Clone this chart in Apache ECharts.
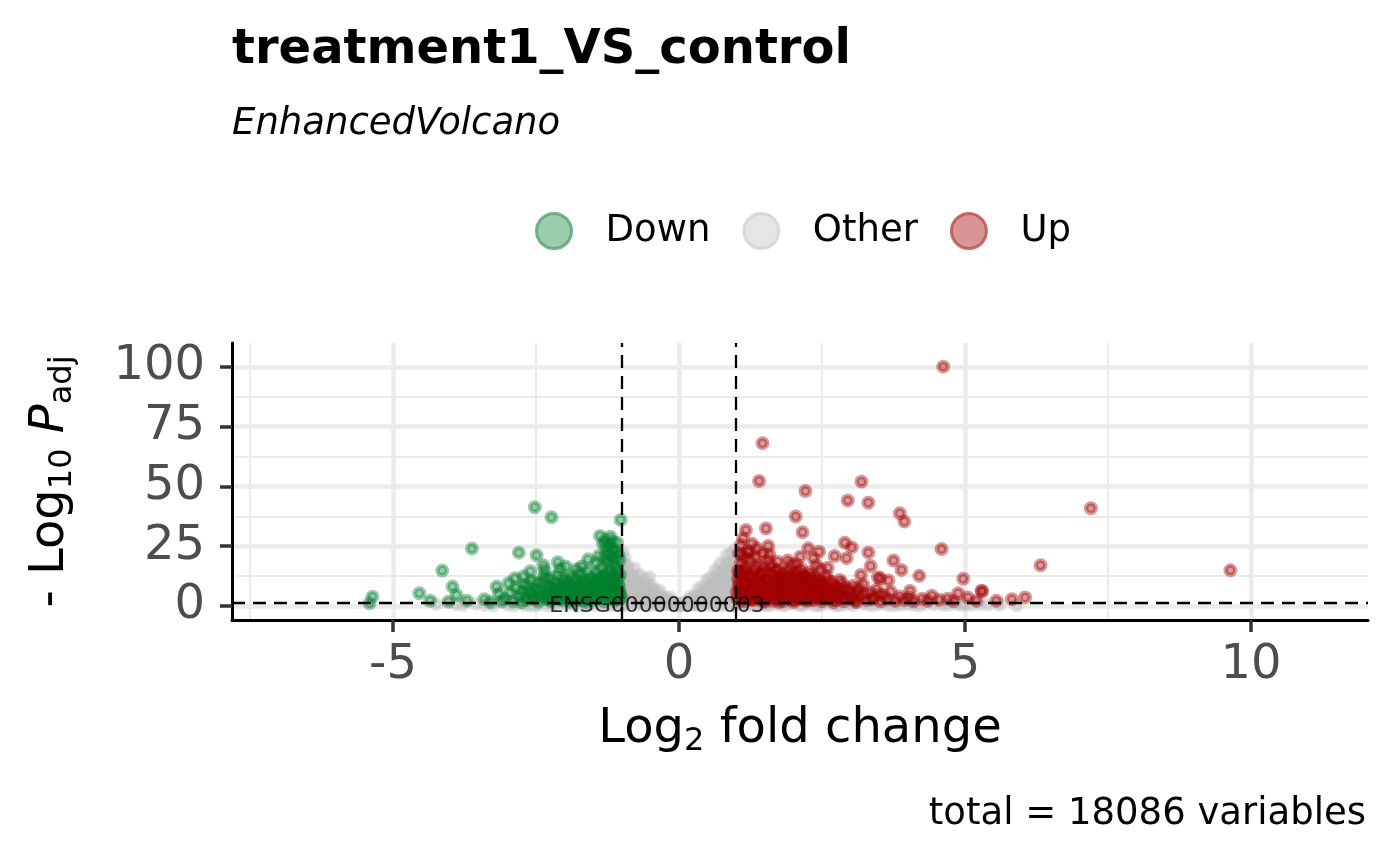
<!DOCTYPE html>
<html>
<head>
<meta charset="utf-8" />
<title>treatment1_VS_control</title>
<script type="text/javascript" src="https://cdn.jsdelivr.net/npm/echarts@6/dist/echarts.min.js"></script>
<style>
  html, body { margin: 0; padding: 0; background: #fff; }
  #main { width: 1400px; height: 866px; }
</style>
</head>
<body>
<div id="main"></div>
<script type="text/javascript">
// 分组名称
var groups = ['Down', 'Other', 'Up'];
var groupColors = ['0,128,45', '190,190,190', '160,0,0'];
// 图例圆点 (填充, 边框)
var legendFill = ['#80c096', '#dedede', '#d07b7b'];
var legendBorder = ['#4fa56c', '#d2d2d2', '#c04848'];

// 坐标轴刻度
var xTicks = [-5, 0, 5, 10];
var xMinorTicks = [-7.5, -2.5, 2.5, 7.5];
var yTicks = [0, 25, 50, 75, 100];
var yMinorTicks = [12.5, 37.5, 62.5, 87.5];
var xRange = [-7.815, 12.045];
var yRange = [-5.86, 110];

// 阈值线 (log2FC = ±1, padj = 0.05)
var fcCut = [-1, 1];
var pCut = [1.30103];

// 标注的基因
var labelGenes = ['ENSG00000000003'];
var labelPos = [[-0.385, 0]];

// 下调 (log2FC, -log10 padj)
var downPoints = [
  [-5.41,1.1],[-5.36,3.9],[-4.54,5.3],[-4.35,2.2],[-4.14,14.8],[-3.96,8.1],[-3.89,4.6],[-4.03,1.8],
  [-3.71,2.2],[-3.62,24.0],[-3.40,2.8],[-3.19,8.1],[-2.80,22.3],[-2.52,41.3],[-2.23,37.1],[-2.49,21.2],
  [-2.37,17.0],[-2.12,18.3],[-1.98,16.5],[-1.79,15.4],[-1.59,19.5],[-1.38,29.3],[-1.29,27.6],[-1.15,23.7],
  [-1.02,36.0],[-1.24,19.2],[-1.21,15.1],[-2.87,11.6],[-2.72,12.3],[-2.26,11.7],[-2.02,9.5],
  [-1.33,26.0],[-1.27,24.5],[-1.22,25.8],[-1.18,21.5],[-1.30,20.5],[-1.26,18.0],[-1.14,17.5],[-1.19,13.5],
  [-1.12,12.0],[-1.28,13.0],[-1.35,11.0],[-1.10,10.0],[-1.16,8.5],[-1.05,6.0],[-1.08,14.5],
  [-3.05,3.0],[-2.95,5.5],[-2.90,2.0],[-2.85,7.5],[-2.78,4.0],[-2.70,9.0],[-2.66,2.5],[-2.62,6.0],
  [-2.58,10.5],[-2.55,3.5],[-2.50,7.0],[-2.46,1.8],[-2.44,5.0],[-2.40,9.5],[-2.36,12.5],[-2.33,3.0],
  [-2.30,6.5],[-2.28,8.5],[-2.24,2.0],[-2.20,4.5],[-2.18,10.0],[-2.15,7.0],[-2.12,13.0],[-2.10,2.8],
  [-2.07,5.5],[-2.05,8.0],[-2.02,11.5],[-1.99,3.8],[-1.96,6.5],[-1.94,9.5],[-1.91,1.8],[-1.88,12.5],
  [-1.86,4.5],[-1.84,7.5],[-1.81,10.5],[-1.78,2.5],[-1.76,5.5],[-1.74,13.5],[-1.71,8.5],[-1.69,3.5],
  [-1.66,11.0],[-1.64,6.0],[-1.62,1.6],[-1.59,9.0],[-1.57,4.0],[-1.55,12.0],[-1.52,7.0],[-1.50,2.5],
  [-1.48,10.0],[-1.46,5.0],[-1.43,14.0],[-1.41,8.0],[-1.39,3.0],[-1.37,11.5],[-1.34,6.0],[-1.31,2.0],
  [-1.29,9.0],[-1.26,4.5],[-1.24,7.5],[-1.21,3.2],[-1.18,10.5],[-1.15,5.5],[-1.13,2.2],[-1.11,7.0],
  [-1.08,4.0],[-1.06,9.0],[-1.04,2.8],[-1.02,5.0],[-3.30,1.6],[-3.15,5.0],[-3.10,1.9],[-2.98,9.5],
  [-2.75,1.5],[-2.60,14.5],[-2.35,15.0],[-2.08,15.5],[-1.70,16.5],[-1.60,14.5],[-1.45,18.0],[-1.40,21.0],
  [-1.36,16.0],
  [-2.75,6.2],[-2.68,3.8],[-2.64,8.2],[-2.57,5.2],[-2.53,2.9],[-2.48,9.8],[-2.42,6.8],[-2.39,3.9],
  [-2.34,11.0],[-2.31,4.8],[-2.27,2.6],[-2.23,7.6],[-2.19,5.9],[-2.16,3.4],[-2.13,9.0],[-2.09,6.3],
  [-2.06,4.1],[-2.03,2.3],[-2.00,7.3],[-1.97,10.8],[-1.95,5.1],[-1.92,3.0],[-1.89,8.4],[-1.87,6.0],
  [-1.85,2.9],[-1.82,11.8],[-1.80,5.0],[-1.77,7.9],[-1.75,3.6],[-1.72,10.0],[-1.70,2.2],[-1.68,6.8],
  [-1.65,4.6],[-1.63,9.8],[-1.61,7.5],[-1.58,3.2],[-1.56,5.8],[-1.54,10.9],[-1.51,4.2],[-1.49,8.7],
  [-1.47,6.4],[-1.44,3.3],[-1.42,11.8],[-1.40,5.4],[-1.38,9.4],[-1.36,7.0],[-1.33,4.0],[-1.32,12.6],
  [-1.30,8.0],[-1.28,5.9],[-1.25,10.6],[-1.23,3.8],[-1.20,8.8],[-1.19,6.2],[-1.17,12.4],[-1.14,4.6],
  [-1.12,9.8],[-1.10,3.0],[-1.09,16.5],[-1.07,11.5],[-1.05,7.8],[-1.03,13.0],[-1.01,3.6],[-1.04,19.0],
  [-1.06,21.5],[-1.11,23.0],[-1.13,19.8],[-1.08,26.5],[-1.17,27.0],[-1.20,29.0],[-1.25,22.0]
];

// 不显著
var otherPoints = [
  [-0.98,22.5],[-0.97,18.0],[-0.95,20.0],[-0.93,14.5],[-0.91,17.0],[-0.89,11.0],[-0.88,15.5],[-0.86,8.0],
  [-0.84,13.0],[-0.82,5.5],[-0.80,10.5],[-0.78,15.8],[-0.76,12.5],[-0.74,7.5],[-0.72,3.5],[-0.70,10.0],
  [-0.68,13.0],[-0.66,6.0],[-0.64,9.0],[-0.62,2.5],[-0.60,11.0],[-0.58,7.0],[-0.56,4.5],[-0.54,9.5],
  [-0.52,12.0],[-0.50,6.0],[-0.48,2.0],[-0.46,8.0],[-0.44,4.0],[-0.42,6.5],[-0.40,1.5],[-0.38,5.0],
  [-0.36,3.0],[-0.34,6.5],[-0.32,1.0],[-0.30,4.0],[-0.28,2.5],[-0.25,3.5],[-0.22,1.2],[-0.19,2.5],
  [-0.16,3.8],[-0.13,0.8],[-0.10,1.8],[-0.07,0.5],[-0.04,1.0],[-0.01,0.3],
  [0.02,0.4],[0.05,1.0],[0.08,0.6],[0.11,1.6],[0.14,0.9],[0.17,2.5],[0.19,3.9],[0.22,1.5],
  [0.25,3.0],[0.28,4.5],[0.31,2.0],[0.34,7.4],[0.36,5.0],[0.39,3.0],[0.42,8.0],[0.45,6.0],
  [0.48,10.9],[0.50,4.0],[0.53,8.5],[0.55,12.0],[0.58,6.5],[0.60,10.0],[0.63,15.1],[0.65,3.0],
  [0.67,12.5],[0.70,8.0],[0.72,17.8],[0.74,14.0],[0.76,5.5],[0.78,11.0],[0.80,16.0],[0.83,21.3],
  [0.85,9.0],[0.87,18.5],[0.89,13.5],[0.91,22.0],[0.93,6.5],[0.95,16.5],[0.97,23.5],[0.99,11.5],
  [0.84,2.0],[0.62,1.5],[0.44,1.0],
  [-0.99,14.0],[-0.97,9.0],[-0.96,4.5],[-0.94,11.5],[-0.92,7.0],[-0.90,3.0],[-0.87,5.5],[-0.85,10.0],
  [-0.83,3.8],[-0.81,7.8],[-0.79,2.8],[-0.77,5.8],[-0.75,9.8],[-0.73,2.2],[-0.71,6.2],[-0.69,4.0],
  [-0.67,8.8],[-0.63,5.2],[-0.61,7.8],[-0.59,3.4],[-0.57,1.8],[-0.53,5.0],[-0.51,3.2],[-0.49,7.2],
  [-0.47,4.4],[-0.43,2.4],[-0.41,3.8],[-0.37,1.6],[-0.33,3.2],[-0.29,1.4],[-0.26,0.9],[-0.20,1.6],
  [-0.15,0.9],[-0.11,0.4],[-0.05,0.2],[0.00,0.6],[0.04,0.2],[0.09,0.3],[0.13,1.2],[0.16,0.6],
  [0.20,2.0],[0.23,0.8],[0.27,1.8],[0.30,3.4],[0.33,1.2],[0.37,2.2],[0.40,5.0],[0.43,3.4],
  [0.47,2.4],[0.49,6.8],[0.52,5.4],[0.54,2.8],[0.57,9.0],[0.59,4.2],[0.61,7.4],[0.64,5.2],
  [0.66,10.0],[0.68,3.6],[0.69,14.2],[0.71,6.4],[0.73,10.8],[0.75,3.2],[0.77,8.4],[0.79,13.2],
  [0.81,5.0],[0.82,18.0],[0.86,12.0],[0.88,4.4],[0.90,9.6],[0.92,15.0],[0.94,3.4],[0.96,8.8],
  [0.98,19.0],
  [-4.24,0.8],[-3.78,0.4],[-3.55,0.9],[-3.25,0.2],[-3.00,0.6],[-2.85,1.0],[-2.70,0.3],[-2.60,0.0],
  [-2.45,0.7],[-2.30,0.1],[-2.15,0.9],[-2.00,0.4],[-1.85,1.1],[-1.75,0.2],[-1.65,0.6],[-1.55,1.0],
  [-1.45,0.3],[-1.35,0.8],[-1.25,0.1],[-1.15,0.5],[-1.05,1.0],[-0.95,0.2],[-0.85,0.7],[-0.75,0.3],
  [-0.65,0.9],[-0.55,0.1],[-0.45,0.5],[-0.35,0.2],[-0.25,0.6],[0.25,0.5],[0.35,0.2],[0.45,0.8],
  [0.55,0.3],[0.65,0.6],[0.75,0.1],[0.85,0.9],[0.95,0.4],[1.05,0.7],[1.15,0.2],[1.25,1.0],
  [1.35,0.4],[1.45,0.8],[1.55,0.1],[1.70,0.6],[1.85,0.3],[2.00,0.9],[2.15,0.2],[2.30,0.7],
  [2.45,0.4],[2.60,1.0],[2.75,0.1],[2.90,0.6],[3.05,0.3],[3.20,0.9],[3.40,0.2],[3.60,0.7],
  [3.80,0.4],[4.00,0.9],[4.20,0.1],[4.45,0.6],[4.70,0.3],[4.95,0.4],[5.00,0.9],[5.40,0.5],
  [-3.90,0.6],[-3.40,0.4],[-2.90,0.2],[-2.50,0.3],[-2.20,0.5],[-1.90,0.7],[-1.60,0.2],[-1.30,0.5],
  [-1.10,0.8],[-1.00,0.3],[1.00,0.5],[1.10,1.0],[1.20,0.3],[1.30,0.6],[1.40,0.1],[1.50,0.5],
  [1.60,0.8],[1.80,0.4],[1.90,0.9],[2.10,0.5],[2.20,0.9],[2.40,0.1],[2.50,0.6],[2.70,0.8],
  [2.80,0.3],[3.00,0.9],[3.30,0.5],[3.50,0.8],[3.70,0.2],[3.90,0.6],[4.10,0.4],[4.30,0.8],
  [4.60,0.5],[4.85,0.7],[5.10,0.3],[5.25,0.7],[5.60,0.4],[5.90,0.2]
];

// 上调
var upPoints = [
  [4.62,100.1],[1.46,68.1],[1.40,52.3],[2.21,48.1],[3.19,52.0],[2.95,44.1],[3.31,43.2],[2.04,37.4],
  [2.16,30.8],[3.86,38.8],[3.94,35.3],[4.59,23.8],[1.17,31.8],[1.52,32.4],[1.12,28.3],[1.36,24.1],
  [1.56,25.1],[2.26,24.1],[2.45,22.7],[2.12,20.6],[2.35,20.0],[2.90,26.5],[3.02,24.5],[2.72,20.9],
  [2.93,20.0],[3.31,22.3],[3.35,16.7],[3.75,19.0],[3.89,15.1],[3.18,13.0],[3.48,12.0],[3.52,11.5],
  [3.66,10.7],[4.20,12.6],[2.81,10.9],[2.47,15.4],[4.97,11.4],[4.04,6.3],[4.42,4.3],[4.88,5.3],
  [5.29,6.4],[5.55,2.2],[5.82,2.8],[5.20,2.2],[4.70,3.0],[4.80,2.0],[5.05,3.5],[7.20,40.9],
  [6.32,17.0],[9.64,14.9],[5.30,6.1],[6.05,3.6],[1.08,25.5],[1.20,23.0],[1.28,26.0],[1.05,22.0],
  [1.02,3.0],[1.04,8.0],[1.06,14.0],[1.08,18.0],[1.10,5.0],[1.12,11.0],[1.14,2.0],[1.16,16.0],
  [1.18,7.5],[1.20,12.5],[1.22,3.5],[1.24,19.5],[1.26,9.0],[1.28,5.5],[1.30,14.5],[1.32,2.5],
  [1.34,11.5],[1.36,7.0],[1.38,17.0],[1.40,4.0],[1.42,13.0],[1.44,9.5],[1.46,2.0],[1.48,16.5],
  [1.50,6.0],[1.52,11.0],[1.54,3.5],[1.56,19.0],[1.58,8.0],[1.60,13.5],[1.62,5.0],[1.64,2.2],
  [1.66,10.5],[1.68,15.0],[1.70,6.5],[1.72,3.0],[1.74,12.0],[1.76,8.5],[1.78,4.5],[1.80,10.0],
  [1.82,2.0],[1.84,14.0],[1.86,6.0],[1.88,9.0],[1.90,3.5],[1.92,12.5],[1.94,7.0],[1.96,17.5],
  [1.98,4.5],[2.00,10.5],[2.02,2.5],[2.04,13.5],[2.06,7.5],[2.08,5.0],[2.10,11.5],[2.12,3.0],
  [2.14,15.5],[2.16,8.0],[2.18,5.5],[2.20,12.0],[2.22,2.2],[2.24,9.5],[2.26,6.0],[2.28,14.0],
  [2.30,4.0],[2.32,10.5],[2.34,7.0],[2.36,2.5],[2.38,12.0],[2.40,5.0],[2.42,8.5],[2.44,3.5],
  [2.46,11.0],[2.48,6.5],[2.50,2.0],[2.52,9.0],[2.55,4.5],[2.58,12.5],[2.61,7.0],[2.64,3.0],
  [2.67,10.0],[2.70,5.5],[2.73,8.0],[2.76,2.5],[2.79,6.5],[2.82,4.0],[2.85,9.5],[2.88,2.0],
  [2.92,7.5],[2.96,5.0],[3.00,3.0],[3.04,8.5],[3.08,2.2],[3.12,6.0],[3.16,4.0],[3.22,9.0],
  [3.28,2.5],[3.34,5.5],[3.40,3.5],[3.46,7.0],[3.52,2.0],[3.58,4.5],[3.64,2.8],[3.70,6.0],
  [3.78,2.2],[3.86,4.0],[3.94,2.5],[4.02,3.5],[4.10,2.0],[4.25,3.0],[4.35,2.2],[4.55,2.6],
  [1.10,21.0],[1.16,20.0],[1.22,22.5],[1.34,20.5],[1.46,22.0],[1.58,21.5],[1.72,18.5],[1.90,19.0],
  [2.05,17.5],[2.40,17.0],[2.60,16.0],[1.03,11.5],[1.07,6.5],[1.13,15.0],[1.27,2.8],[1.50,1.8],
  [1.75,1.6],[2.00,1.7],[2.70,1.6],[3.10,1.6],
  [1.01,5.8],[1.03,14.8],[1.05,9.6],[1.07,2.4],[1.09,12.8],[1.11,7.8],[1.13,4.2],[1.15,10.2],
  [1.17,5.5],[1.19,14.2],[1.21,9.0],[1.23,6.3],[1.25,2.6],[1.27,12.0],[1.29,8.2],[1.31,4.5],
  [1.33,16.0],[1.35,9.8],[1.37,3.4],[1.39,12.2],[1.41,6.8],[1.43,10.4],[1.45,4.8],[1.47,13.8],
  [1.49,8.4],[1.51,2.8],[1.53,14.5],[1.55,6.2],[1.57,10.6],[1.59,4.4],[1.61,16.8],[1.63,8.8],
  [1.65,3.4],[1.67,12.6],[1.69,5.6],[1.71,9.2],[1.73,15.2],[1.75,3.8],[1.77,11.0],[1.79,6.8],
  [1.81,13.2],[1.83,4.0],[1.85,8.0],[1.87,11.8],[1.89,5.2],[1.91,14.8],[1.93,2.8],[1.95,9.6],
  [1.97,6.2],[1.99,12.4],[2.01,4.2],[2.03,8.6],[2.05,11.0],[2.07,3.2],[2.09,14.6],[2.11,6.8],
  [2.13,9.8],[2.15,4.6],[2.17,12.8],[2.19,2.8],[2.21,7.4],[2.23,11.6],[2.25,4.4],[2.27,8.8],
  [2.29,2.4],[2.31,12.6],[2.33,5.6],[2.35,9.0],[2.37,3.8],[2.39,7.8],[2.41,10.4],[2.43,5.8],
  [2.47,3.2],[2.49,9.6],[2.51,5.2],[2.54,7.4],[2.57,3.0],[2.60,10.8],[2.63,5.0],[2.66,8.0],
  [2.69,3.6],[2.72,6.2],[2.78,4.6],[2.84,7.0],[2.90,3.6],[2.98,6.6],[3.06,4.0],[3.14,7.6],
  [3.25,5.0],[3.38,2.8],[3.50,4.8]
];

var groupData = [downPoints, otherPoints, upPoints];
var font = 'DejaVu Sans';

function pointSeries(i) {
  var c = groupColors[i];
  return {
    name: groups[i],
    type: 'scatter',
    data: groupData[i],
    symbol: 'circle',
    symbolSize: 9.5,
    itemStyle: {
      color: 'rgba(' + c + ',0.5)',
      borderColor: 'rgba(' + c + ',0.5)',
      borderWidth: 4.5
    },
    silent: true
  };
}

var myChart = echarts.init(document.getElementById('main'), null, {renderer: 'canvas'});

var series = [pointSeries(1), pointSeries(0), pointSeries(2)];

// 阈值虚线
var cutLines = [];
fcCut.forEach(function (v) { cutLines.push({xAxis: v}); });
pCut.forEach(function (v) { cutLines.push({yAxis: v}); });
series.push({
  name: 'cutoff',
  type: 'scatter',
  data: [],
  silent: true,
  markLine: {
    silent: true,
    symbol: ['none', 'none'],
    label: {show: false},
    lineStyle: {color: '#000', type: [13, 8], width: 2.3},
    data: cutLines
  }
});

// 基因标签
series.push({
  name: 'labels',
  type: 'scatter',
  data: labelPos.map(function (p, i) { return {value: p, name: labelGenes[i]}; }),
  symbolSize: 1,
  itemStyle: {color: 'transparent'},
  silent: true,
  label: {
    show: true,
    position: 'inside',
    formatter: '{b}',
    fontFamily: font,
    fontSize: 22,
    color: '#000'
  },
  z: 5
});

// 图例
var legendData = groups.map(function (g, i) {
  return {
    name: g,
    icon: 'circle',
    itemStyle: {color: legendFill[i], borderColor: legendBorder[i], borderWidth: 3}
  };
});

var option = {
  animation: false,
  backgroundColor: '#fff',
  textStyle: {fontFamily: font},
  title: [{
    text: 'treatment1_VS_control',
    left: 232, top: 27, padding: 0,
    textStyle: {fontFamily: font, fontSize: 48, fontWeight: 'bold', color: '#000'}
  }, {
    text: 'EnhancedVolcano',
    left: 232, top: 106, padding: 0,
    textStyle: {fontFamily: font, fontSize: 37, fontStyle: 'italic', fontWeight: 'normal', color: '#000'}
  }, {
    text: 'total = 18086 variables',
    right: 34, top: 796, padding: 0,
    textStyle: {fontFamily: font, fontSize: 37, fontWeight: 'normal', color: '#000'}
  }],
  legend: {
    data: legendData,
    left: 535, top: 212, padding: 0,
    itemWidth: 35, itemHeight: 35, itemGap: 32,
    selectedMode: false,
    textStyle: {fontFamily: font, fontSize: 37, color: '#000', padding: [0, 0, 0, 29]}
  },
  grid: {left: 232, right: 32, top: 343, bottom: 246, containLabel: false},
  xAxis: [{
    type: 'value',
    min: xRange[0], max: xRange[1],
    name: '{m|Log}{s|2}{m| fold change}',
    nameLocation: 'middle',
    nameGap: 82,
    nameTextStyle: {
      rich: {
        m: {fontFamily: font, fontSize: 48, lineHeight: 56, color: '#000'},
        s: {fontFamily: font, fontSize: 32, lineHeight: 32, color: '#000', verticalAlign: 'bottom'}
      }
    },
    axisLine: {show: true, onZero: false, lineStyle: {color: '#000', width: 3}},
    axisTick: {show: true, length: 12, customValues: xTicks, lineStyle: {color: '#333', width: 3.5}},
    axisLabel: {show: true, margin: 22, customValues: xTicks, fontFamily: font, fontSize: 48, color: '#4d4d4d'},
    splitLine: {show: true, customValues: xTicks, lineStyle: {color: '#ebebeb', width: 4.5}}
  }, {
    type: 'value',
    min: xRange[0], max: xRange[1],
    position: 'bottom',
    axisLine: {show: false},
    axisTick: {show: false, customValues: xMinorTicks},
    axisLabel: {show: false},
    splitLine: {show: true, customValues: xMinorTicks, lineStyle: {color: '#ebebeb', width: 2}}
  }],
  yAxis: [{
    type: 'value',
    min: yRange[0], max: yRange[1],
    name: '{m|- Log}{s|10}{m| }{i|P}{s|adj}',
    nameLocation: 'middle',
    nameGap: 153,
    nameRotate: 90,
    nameTextStyle: {
      rich: {
        m: {fontFamily: font, fontSize: 48, lineHeight: 56, color: '#000'},
        i: {fontFamily: font, fontSize: 48, lineHeight: 56, fontStyle: 'italic', color: '#000'},
        s: {fontFamily: font, fontSize: 32, lineHeight: 32, color: '#000', verticalAlign: 'bottom'}
      }
    },
    axisLine: {show: true, onZero: false, lineStyle: {color: '#000', width: 3}},
    axisTick: {show: true, length: 12, customValues: yTicks, lineStyle: {color: '#333', width: 3.5}},
    axisLabel: {show: true, margin: 27, customValues: yTicks, fontFamily: font, fontSize: 48, color: '#4d4d4d'},
    splitLine: {show: true, customValues: yTicks, lineStyle: {color: '#ebebeb', width: 4.5}}
  }, {
    type: 'value',
    min: yRange[0], max: yRange[1],
    position: 'left',
    axisLine: {show: false},
    axisTick: {show: false, customValues: yMinorTicks},
    axisLabel: {show: false},
    splitLine: {show: true, customValues: yMinorTicks, lineStyle: {color: '#ebebeb', width: 2}}
  }],
  series: series
};

myChart.setOption(option);
</script>
</body>
</html>
